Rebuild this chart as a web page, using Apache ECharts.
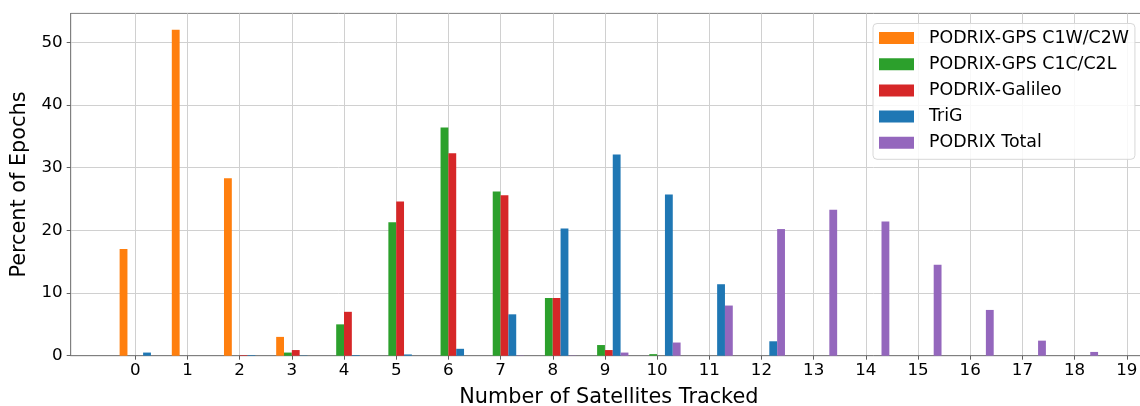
<!DOCTYPE html>
<html>
<head>
<meta charset="utf-8">
<script src="https://cdn.jsdelivr.net/npm/echarts@6/dist/echarts.min.js"></script>
<style>
  html, body { margin: 0; padding: 0; background: #ffffff; }
  #chart { width: 1140px; height: 406px; }
</style>
</head>
<body>
<div id="chart"></div>
<script>
// Number of satellites tracked per epoch (x categories)
const satellites = [0, 1, 2, 3, 4, 5, 6, 7, 8, 9, 10, 11, 12, 13, 14, 15, 16, 17, 18, 19];
const yTicks = [0, 10, 20, 30, 40, 50];

// Percent of epochs for each receiver / signal set
const gpsC1W   = [17.0, 52.0, 28.3, 3.0, 0, 0, 0, 0, 0, 0, 0, 0, 0, 0, 0, 0, 0, 0, 0, 0];
const gpsC1C   = [0, 0, 0, 0.5, 5.0, 21.3, 36.4, 26.2, 9.2, 1.7, 0.25, 0, 0, 0, 0, 0, 0, 0, 0, 0];
const galileo  = [0, 0, 0.1, 0.9, 7.0, 24.6, 32.3, 25.6, 9.2, 0.9, 0, 0, 0, 0, 0, 0, 0, 0, 0, 0];
const trig     = [0.5, 0, 0.1, 0.05, 0.1, 0.2, 1.1, 6.6, 20.3, 32.1, 25.7, 11.4, 2.3, 0, 0, 0, 0, 0, 0, 0];
const total    = [0, 0, 0, 0, 0, 0, 0, 0.05, 0.05, 0.5, 2.1, 8.0, 20.2, 23.3, 21.4, 14.5, 7.3, 2.4, 0.6, 0];

const seriesNames = ['PODRIX-GPS C1W/C2W', 'PODRIX-GPS C1C/C2L', 'PODRIX-Galileo', 'TriG', 'PODRIX Total'];
const seriesValues = [gpsC1W, gpsC1C, galileo, trig, total];
const colors = ['#ff7f0e', '#2ca02c', '#d62728', '#1f77b4', '#9467bd'];

// Layout of the plotting area
const FONT = 'DejaVu Sans';
const GRID = { left: 70.7, right: -7, top: 13.4, bottom: 50.3 };
const X_MIN = -1.2375, X_MAX = 19.3875;
const BAR_W = 0.15;                       // bar width in axis units
const plotWidth = 1140 - GRID.left - GRID.right;
const barPx = BAR_W * plotWidth / (X_MAX - X_MIN);

const series = seriesNames.map((name, i) => ({
  name: name,
  type: 'bar',
  barWidth: barPx,
  barGap: '-100%',
  itemStyle: { color: colors[i] },
  emphasis: { disabled: true },
  data: satellites.map((s, k) => [s + (i - 1.5) * BAR_W, seriesValues[i][k]])
}));

const chart = echarts.init(document.getElementById('chart'), null, { renderer: 'canvas' });
chart.setOption({
  animation: false,
  backgroundColor: '#ffffff',
  textStyle: { fontFamily: FONT },
  grid: {
    left: GRID.left, right: GRID.right, top: GRID.top, bottom: GRID.bottom,
    outerBoundsMode: 'none', containLabel: false,
    show: true, borderColor: '#808080', borderWidth: 1, backgroundColor: 'transparent'
  },
  legend: {
    orient: 'vertical',
    left: 873, top: 23.5,
    padding: [6, 6, 8, 6],
    icon: 'rect',
    itemWidth: 35, itemHeight: 12, itemGap: 9.2,
    backgroundColor: 'rgba(255,255,255,0.85)',
    borderColor: '#d8d8d8', borderWidth: 1, borderRadius: 4,
    textStyle: { fontFamily: FONT, fontSize: 17.4, color: '#000', padding: [0, 0, 0, 10] },
    data: seriesNames.map((n, i) => ({ name: n, itemStyle: { color: colors[i] } }))
  },
  xAxis: {
    type: 'value',
    min: X_MIN, max: X_MAX,
    name: 'Number of Satellites Tracked',
    nameLocation: 'middle', nameGap: 31,
    nameTextStyle: { fontFamily: FONT, fontSize: 20.8, color: '#000' },
    axisLine: { show: true, onZero: false, lineStyle: { color: '#808080', width: 1 } },
    axisTick: { show: true, length: 4, customValues: satellites, lineStyle: { color: '#606060' } },
    axisLabel: { customValues: satellites, margin: 6, fontFamily: FONT, fontSize: 16.7, color: '#000' },
    splitLine: { show: true, lineStyle: { color: '#d0d0d0', width: 1 } }
  },
  yAxis: {
    type: 'value',
    min: 0, max: 54.6,
    name: 'Percent of Epochs',
    nameLocation: 'middle', nameGap: 35,
    nameTextStyle: { fontFamily: FONT, fontSize: 20.8, color: '#000' },
    axisLine: { show: true, onZero: false, lineStyle: { color: '#808080', width: 1 } },
    axisTick: { show: true, length: 4, customValues: yTicks, lineStyle: { color: '#606060' } },
    axisLabel: { customValues: yTicks, margin: 8, fontFamily: FONT, fontSize: 16.7, color: '#000' },
    splitLine: { show: true, lineStyle: { color: '#d0d0d0', width: 1 } }
  },
  series: series
});
</script>
</body>
</html>
